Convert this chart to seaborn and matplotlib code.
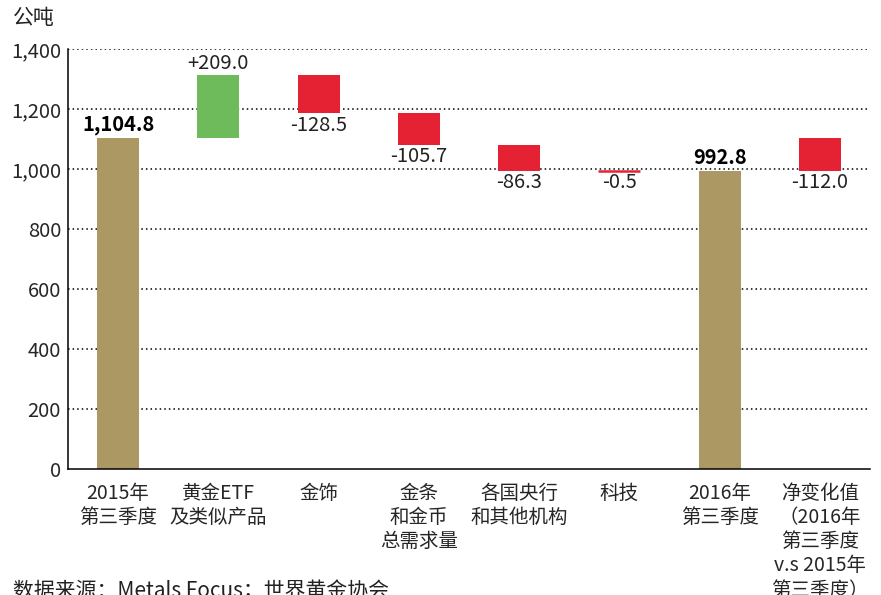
import numpy as np
import pandas as pd
import matplotlib
matplotlib.use("Agg")
import matplotlib.pyplot as plt
import seaborn as sns
from matplotlib.ticker import FuncFormatter, MultipleLocator

sns.set_theme(style="white")
plt.rcParams['font.family'] = ['Noto Sans CJK SC', 'DejaVu Sans']

# data
categories = ["2015年\n第三季度", "黄金ETF\n及类似产品", "金饰", "金条\n和金币\n总需求量",
              "各国央行\n和其他机构", "科技", "2016年\n第三季度",
              "净变化值\n（2016年\n第三季度\nv.s 2015年\n第三季度）"]
start_total = 1104.8
changes = [209.0, -128.5, -105.7, -86.3, -0.5]
end_total = 992.8
net_change = -112.0

tan, green, red = "#AC9862", "#6DBB5A", "#E42233"

# build waterfall table
level = np.cumsum([start_total] + changes)
bottoms = [0.0]
heights = [start_total]
colors = [tan]
for i, c in enumerate(changes):
    lo = min(level[i], level[i + 1])
    bottoms.append(lo)
    heights.append(abs(c))
    colors.append(green if c > 0 else red)
bottoms.append(0.0)
heights.append(end_total)
colors.append(tan)
bottoms.append(min(start_total, end_total))
heights.append(abs(net_change))
colors.append(red)

df = pd.DataFrame({"cat": categories, "bottom": bottoms, "height": heights})

fig = plt.figure(figsize=(8.81, 5.95), dpi=100)
ax = fig.add_axes([0.0772, 0.2118, 0.9103, 0.7058])

sns.barplot(data=df, x="cat", y="height", bottom=df["bottom"].values, color=tan,
            width=0.42, saturation=1, ax=ax, zorder=2)
for patch, col, h in zip(ax.patches, colors, heights):
    patch.set_facecolor(col)
    if h < 5:
        # tiny change: keep it visible as a thin line
        patch.set_edgecolor(col)
        patch.set_linewidth(1.8)
    else:
        patch.set_edgecolor("none")

# labels
labels = [f"{start_total:,.1f}"] + [f"{c:+.1f}" for c in changes] + [f"{end_total:,.1f}", f"{net_change:.1f}"]
for i, (b, h, lab) in enumerate(zip(bottoms, heights, labels)):
    if i in (0, 6):
        ax.text(i, b + h + 10, lab, ha="center", va="bottom", fontsize=14.5,
                fontweight="bold", color="black")
    elif i == 1:
        ax.text(i, b + h + 4, lab, ha="center", va="bottom", fontsize=14.5, color="#222222")
    else:
        ax.text(i, b - 4, lab, ha="center", va="top", fontsize=14.5, color="#222222")

ax.set_ylim(0, 1400)
ax.set_xlim(-0.5, 7.5)
ax.yaxis.set_major_locator(MultipleLocator(200))
ax.yaxis.set_major_formatter(FuncFormatter(lambda v, p: f"{v:,.0f}"))
for y in range(200, 1401, 200):
    ax.axhline(y, color="black", linestyle=(0, (1, 2)), linewidth=1.1, zorder=1)

ax.set_xticks(range(len(categories)))
ax.set_xticklabels(categories, fontsize=14, linespacing=1.2, va="top")
ax.set_xticks(np.arange(-0.5, 8.0, 1.0), minor=True)
ax.tick_params(axis="x", which="major", length=0, pad=10)
ax.tick_params(axis="x", which="minor", length=8, width=1, color="black", direction="out")
ax.tick_params(axis="y", length=0, labelsize=14.5, pad=5)

ax.set_xlabel("")
ax.set_ylabel("")
for s in ["top", "right"]:
    ax.spines[s].set_visible(False)
for s in ["left", "bottom"]:
    ax.spines[s].set_color("black")
    ax.spines[s].set_linewidth(1.1)

fig.text(0.015, 0.97, "公吨", fontsize=15, color="#222222", va="center")
fig.text(0.015, -0.012, "数据来源：Metals Focus；世界黄金协会", fontsize=15,
         color="#222222", va="bottom")

fig.savefig("out.png", dpi=100)
